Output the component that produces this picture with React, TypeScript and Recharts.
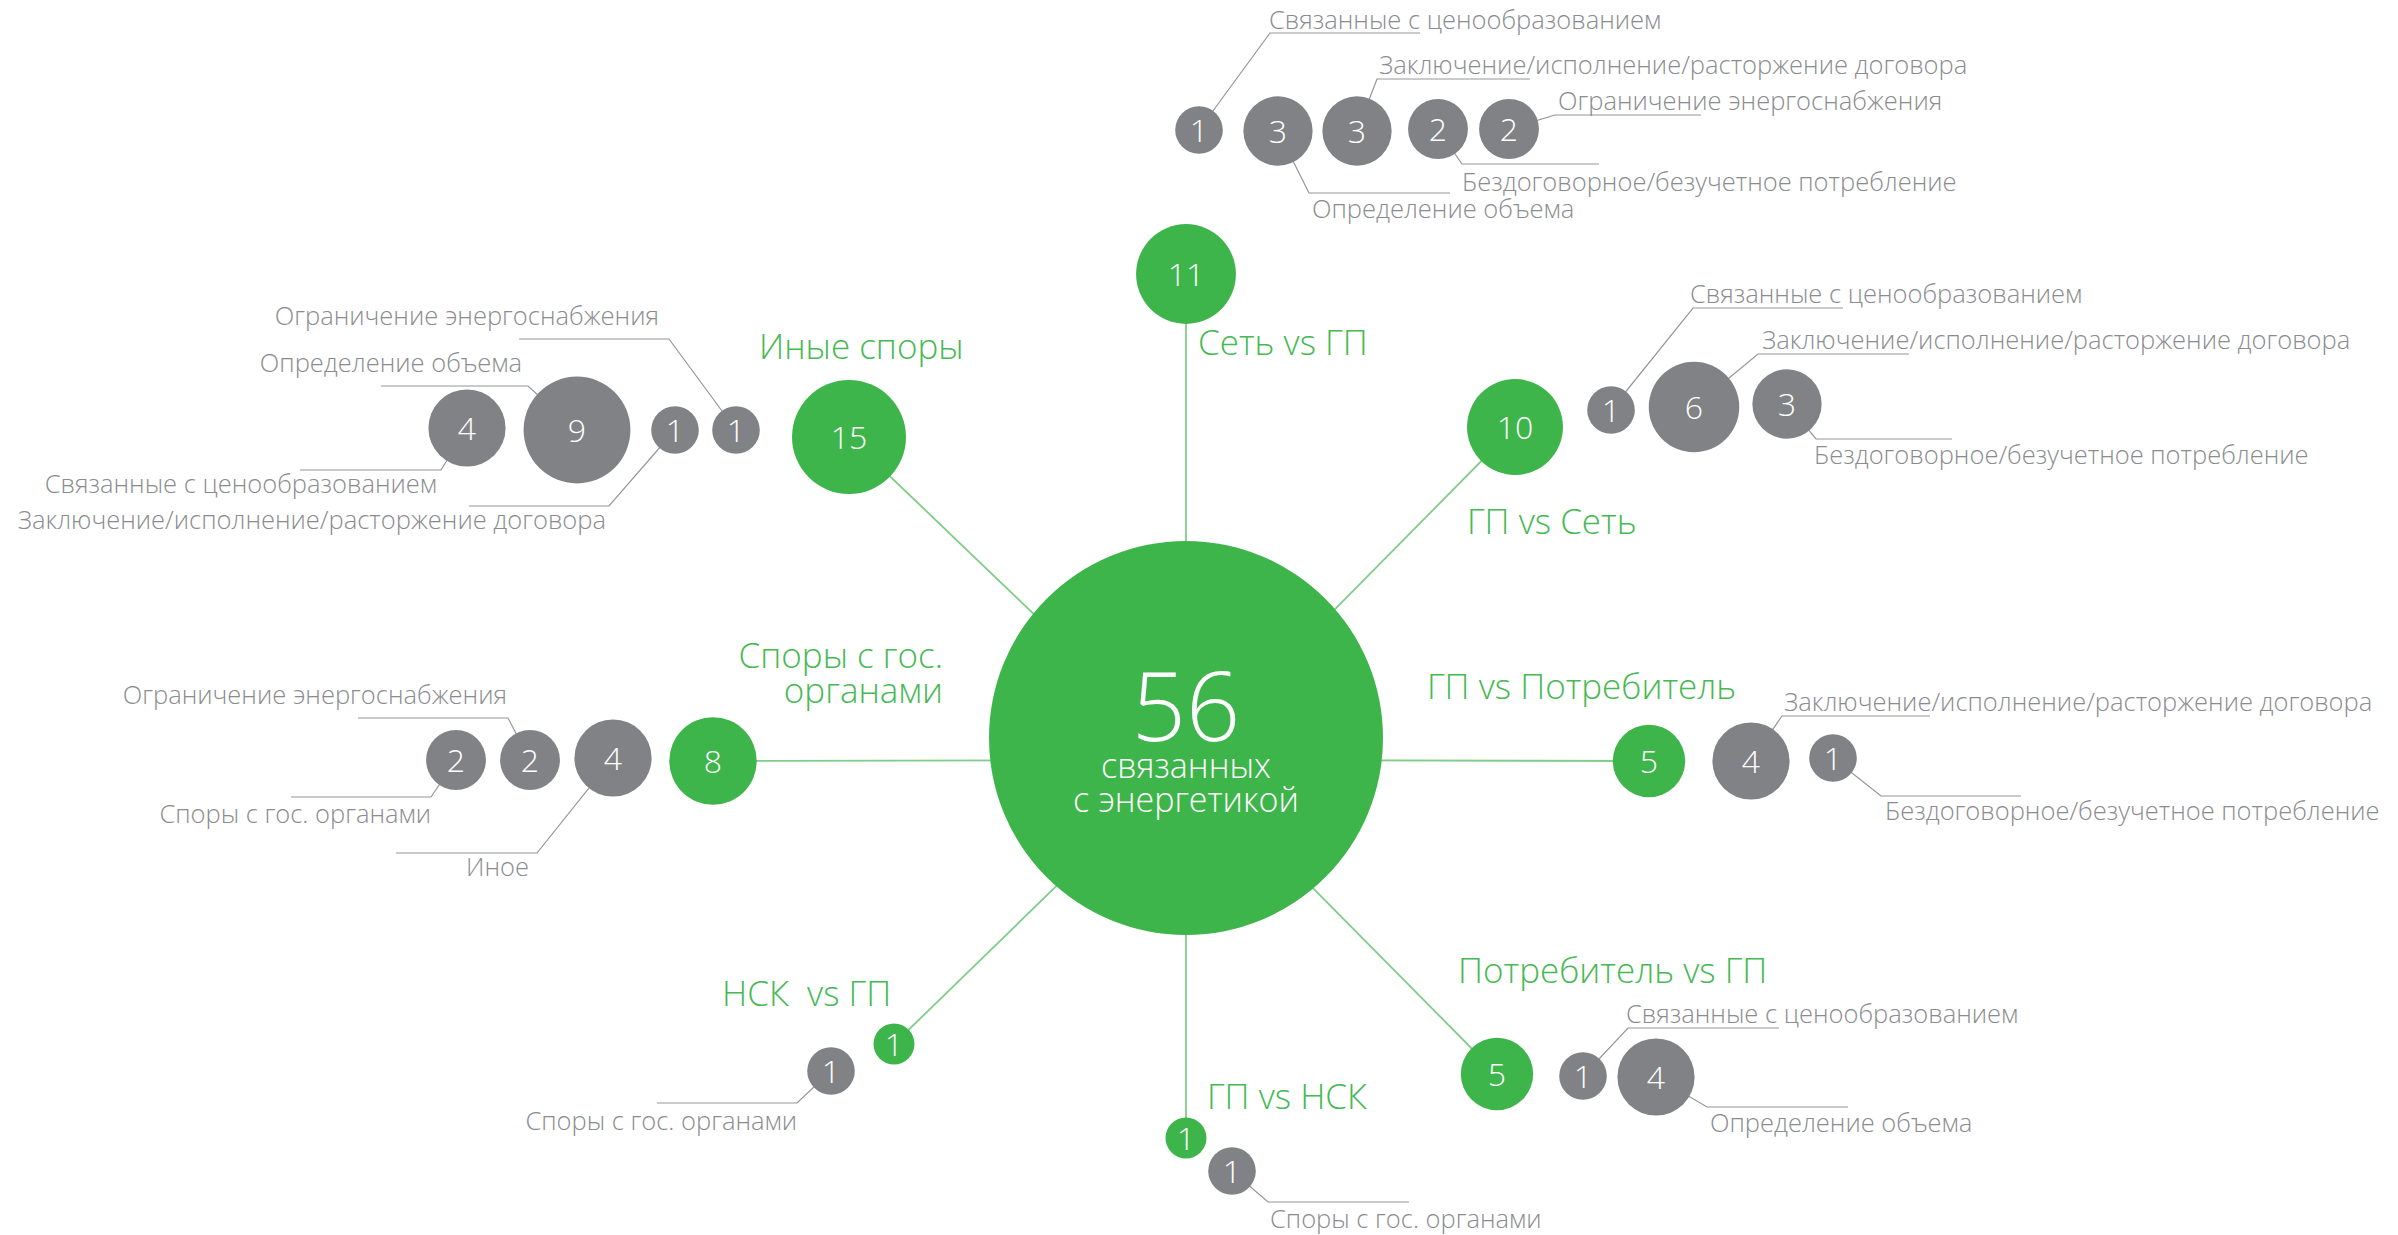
import React from 'react';
import { ScatterChart, Scatter, XAxis, YAxis } from 'recharts';

// ---------------- data ----------------
const TOTAL = 56;
const TOTAL_CAPTION = ['связанных', 'с энергетикой'];

const categories = [
  'Сеть vs ГП',
  'ГП vs Сеть',
  'ГП vs Потребитель',
  'Потребитель vs ГП',
  'ГП vs НСК',
  'НСК  vs ГП',
  'Споры с гос. органами',
  'Иные споры',
];
const categoryValues = [11, 10, 5, 5, 1, 1, 8, 15];

const subCategoryIndex = [0, 0, 0, 0, 0, 1, 1, 1, 2, 2, 3, 3, 4, 5, 6, 6, 6, 7, 7, 7, 7];
const subLabels = [
  'Связанные с ценообразованием',
  'Определение объема',
  'Заключение/исполнение/расторжение договора',
  'Бездоговорное/безучетное потребление',
  'Ограничение энергоснабжения',
  'Связанные с ценообразованием',
  'Заключение/исполнение/расторжение договора',
  'Бездоговорное/безучетное потребление',
  'Заключение/исполнение/расторжение договора',
  'Бездоговорное/безучетное потребление',
  'Связанные с ценообразованием',
  'Определение объема',
  'Споры с гос. органами',
  'Споры с гос. органами',
  'Споры с гос. органами',
  'Ограничение энергоснабжения',
  'Иное',
  'Связанные с ценообразованием',
  'Определение объема',
  'Заключение/исполнение/расторжение договора',
  'Ограничение энергоснабжения',
];
const subValues = [1, 3, 3, 2, 2, 1, 6, 3, 4, 1, 1, 4, 1, 1, 2, 2, 4, 4, 9, 1, 1];

// ---------------- layout (positions in chart units) ----------------
const W = 2398;
const H = 1235;
const CENTER = { x: 1186, y: 738 };
const HUB = { x: 1186, y: 760 };

const catLayout = [
  { x: 1186, y: 274, lx: 1198, ly: 355, anchor: 'start', wrap: 0 },
  { x: 1515, y: 427, lx: 1467, ly: 534, anchor: 'start', wrap: 0 },
  { x: 1649, y: 761, lx: 1427, ly: 699, anchor: 'start', wrap: 0 },
  { x: 1497, y: 1074, lx: 1458, ly: 983, anchor: 'start', wrap: 0 },
  { x: 1186, y: 1138, lx: 1207, ly: 1109, anchor: 'start', wrap: 0 },
  { x: 894, y: 1044, lx: 722, ly: 1006, anchor: 'start', wrap: 0 },
  { x: 713, y: 761, lx: 943, ly: 668, anchor: 'end', wrap: 3 },
  { x: 849, y: 437, lx: 759, ly: 359, anchor: 'start', wrap: 0 },
];

// bubble (x,y), elbow (ex,ey), horizontal end hx, label (lx,ly,anchor)
const subLayout = [
  { x: 1199, y: 130, ex: 1270, ey: 33, hx: 1420, lx: 1269, ly: 29, anchor: 'start' },
  { x: 1278, y: 131, ex: 1309, ey: 193, hx: 1450, lx: 1312, ly: 218, anchor: 'start' },
  { x: 1357, y: 131, ex: 1377, ey: 79, hx: 1530, lx: 1379, ly: 74, anchor: 'start' },
  { x: 1438, y: 129, ex: 1462, ey: 164, hx: 1599, lx: 1462, ly: 191, anchor: 'start' },
  { x: 1509, y: 129, ex: 1555, ey: 115, hx: 1701, lx: 1558, ly: 110, anchor: 'start' },
  { x: 1611, y: 410, ex: 1693, ey: 308, hx: 1843, lx: 1690, ly: 303, anchor: 'start' },
  { x: 1694, y: 407, ex: 1758, ey: 354, hx: 1909, lx: 1762, ly: 349, anchor: 'start' },
  { x: 1787, y: 404, ex: 1816, ey: 439, hx: 1952, lx: 1814, ly: 464, anchor: 'start' },
  { x: 1751, y: 761, ex: 1782, ey: 716, hx: 1930, lx: 1784, ly: 711, anchor: 'start' },
  { x: 1833, y: 758, ex: 1881, ey: 796, hx: 2021, lx: 1885, ly: 820, anchor: 'start' },
  { x: 1583, y: 1076, ex: 1628, ey: 1028, hx: 1779, lx: 1626, ly: 1023, anchor: 'start' },
  { x: 1656, y: 1077, ex: 1707, ey: 1107, hx: 1848, lx: 1710, ly: 1132, anchor: 'start' },
  { x: 1232, y: 1171, ex: 1268, ey: 1202, hx: 1409, lx: 1270, ly: 1228, anchor: 'start' },
  { x: 831, y: 1071, ex: 797, ey: 1103, hx: 657, lx: 797, ly: 1130, anchor: 'end' },
  { x: 456, y: 760, ex: 431, ey: 797, hx: 291, lx: 431, ly: 823, anchor: 'end' },
  { x: 530, y: 760, ex: 508, ey: 718, hx: 358, lx: 507, ly: 704, anchor: 'end' },
  { x: 613, y: 758, ex: 537, ey: 853, hx: 396, lx: 529, ly: 876, anchor: 'end' },
  { x: 467, y: 428, ex: 441, ey: 470, hx: 300, lx: 437, ly: 493, anchor: 'end' },
  { x: 577, y: 430, ex: 528, ey: 386, hx: 381, lx: 522, ly: 372, anchor: 'end' },
  { x: 675, y: 430, ex: 609, ey: 506, hx: 469, lx: 606, ly: 529, anchor: 'end' },
  { x: 736, y: 430, ex: 669, ey: 339, hx: 519, lx: 659, ly: 325, anchor: 'end' },
];

// ---------------- styles ----------------
const FONT = "'Open Sans', Lato, 'DejaVu Sans', sans-serif";
const GREEN = '#3db54a';
const GREEN_TEXT = '#46b953';
const GRAY = '#808285';
const GRAY_TEXT = '#8a8c8f';
const LEADER = '#939598';
const SPOKE = '#80cc88';
const CENTER_R = 197;

const greenRadius = (v: number) => 7.8 + 12.7 * Math.sqrt(v);
const grayRadius = (v: number) => 9 + 14.8 * Math.sqrt(v);

// ---------------- derived tables ----------------
const centerData = [{ x: CENTER.x, y: CENTER.y, value: TOTAL }];
const catData = categories.map((name, i) => ({
  x: catLayout[i].x,
  y: catLayout[i].y,
  value: categoryValues[i],
  name,
}));
const subData = subLabels.map((name, i) => ({
  x: subLayout[i].x,
  y: subLayout[i].y,
  value: subValues[i],
  name,
  cat: categories[subCategoryIndex[i]],
}));
const spokes = catLayout.map((c) => [
  { x: c.x, y: c.y },
  { x: HUB.x, y: HUB.y },
]);
const leaders = subLayout.map((s) => [
  { x: s.x, y: s.y },
  { x: s.ex, y: s.ey },
  { x: s.hx, y: s.ey },
]);
const catLabelData = categories.flatMap((name, i) => {
  const l = catLayout[i];
  if (!l.wrap) return [{ x: l.lx, y: l.ly, text: name, anchor: l.anchor }];
  const words = name.split(' ');
  return [
    { x: l.lx, y: l.ly, text: words.slice(0, l.wrap).join(' '), anchor: l.anchor },
    { x: l.lx, y: l.ly + 35, text: words.slice(l.wrap).join(' '), anchor: l.anchor },
  ];
});
const subLabelData = subLabels.map((name, i) => ({
  x: subLayout[i].lx,
  y: subLayout[i].ly,
  text: name,
  anchor: subLayout[i].anchor,
}));

// ---------------- shapes ----------------
const Empty = () => <g />;

const CenterShape = (p: any) => (
  <g>
    <circle cx={p.cx} cy={p.cy} r={CENTER_R} fill={GREEN} />
    <text x={p.cx} y={p.cy + 3} textAnchor="middle" fill="#fff" fontSize={95} fontWeight={300} fontFamily={FONT}>
      {p.payload.value}
    </text>
    <text x={p.cx} y={p.cy + 40} textAnchor="middle" fill="#fff" fontSize={34} fontWeight={300} fontFamily={FONT}>
      {TOTAL_CAPTION[0]}
    </text>
    <text x={p.cx} y={p.cy + 74} textAnchor="middle" fill="#fff" fontSize={34} fontWeight={300} fontFamily={FONT}>
      {TOTAL_CAPTION[1]}
    </text>
  </g>
);

const bubble = (color: string, rf: (v: number) => number) => (p: any) => (
  <g>
    <circle cx={p.cx} cy={p.cy} r={rf(p.payload.value)} fill={color} />
    <text x={p.cx} y={p.cy + 11.5} textAnchor="middle" fill="#fff" fontSize={32} fontWeight={300} fontFamily={FONT}>
      {p.payload.value}
    </text>
  </g>
);
const CatShape = bubble(GREEN, greenRadius);
const SubShape = bubble(GRAY, grayRadius);

const textShape = (color: string, size: number) => (p: any) => (
  <text
    x={p.cx}
    y={p.cy}
    textAnchor={p.payload.anchor}
    fill={color}
    fontSize={size}
    fontWeight={300}
    fontFamily={FONT}
    style={{ whiteSpace: 'pre' }}
  >
    {p.payload.text}
  </text>
);
const CatLabelShape = textShape(GREEN_TEXT, 35);
const SubLabelShape = textShape(GRAY_TEXT, 25.5);

export default function App() {
  return (
    <div style={{ width: W, height: H, overflow: 'hidden', background: '#fff' }}>
      <style>{'body{margin:0;overflow:hidden;}'}</style>
      <ScatterChart width={W} height={H} margin={{ top: 0, right: 0, bottom: 0, left: 0 }}>
        <XAxis type="number" dataKey="x" domain={[0, W]} hide allowDataOverflow />
        <YAxis type="number" dataKey="y" domain={[0, H]} reversed hide allowDataOverflow />
        {spokes.map((pts, i) => (
          <Scatter
            key={'spoke' + i}
            data={pts}
            line={{ stroke: SPOKE, strokeWidth: 1.8 }}
            shape={Empty}
            isAnimationActive={false}
            legendType="none"
          />
        ))}
        {leaders.map((pts, i) => (
          <Scatter
            key={'leader' + i}
            data={pts}
            line={{ stroke: LEADER, strokeWidth: 1.2 }}
            shape={Empty}
            isAnimationActive={false}
            legendType="none"
          />
        ))}
        <Scatter data={centerData} shape={CenterShape} isAnimationActive={false} legendType="none" />
        <Scatter data={catData} shape={CatShape} isAnimationActive={false} legendType="none" />
        <Scatter data={subData} shape={SubShape} isAnimationActive={false} legendType="none" />
        <Scatter data={catLabelData} shape={CatLabelShape} isAnimationActive={false} legendType="none" />
        <Scatter data={subLabelData} shape={SubLabelShape} isAnimationActive={false} legendType="none" />
      </ScatterChart>
    </div>
  );
}
